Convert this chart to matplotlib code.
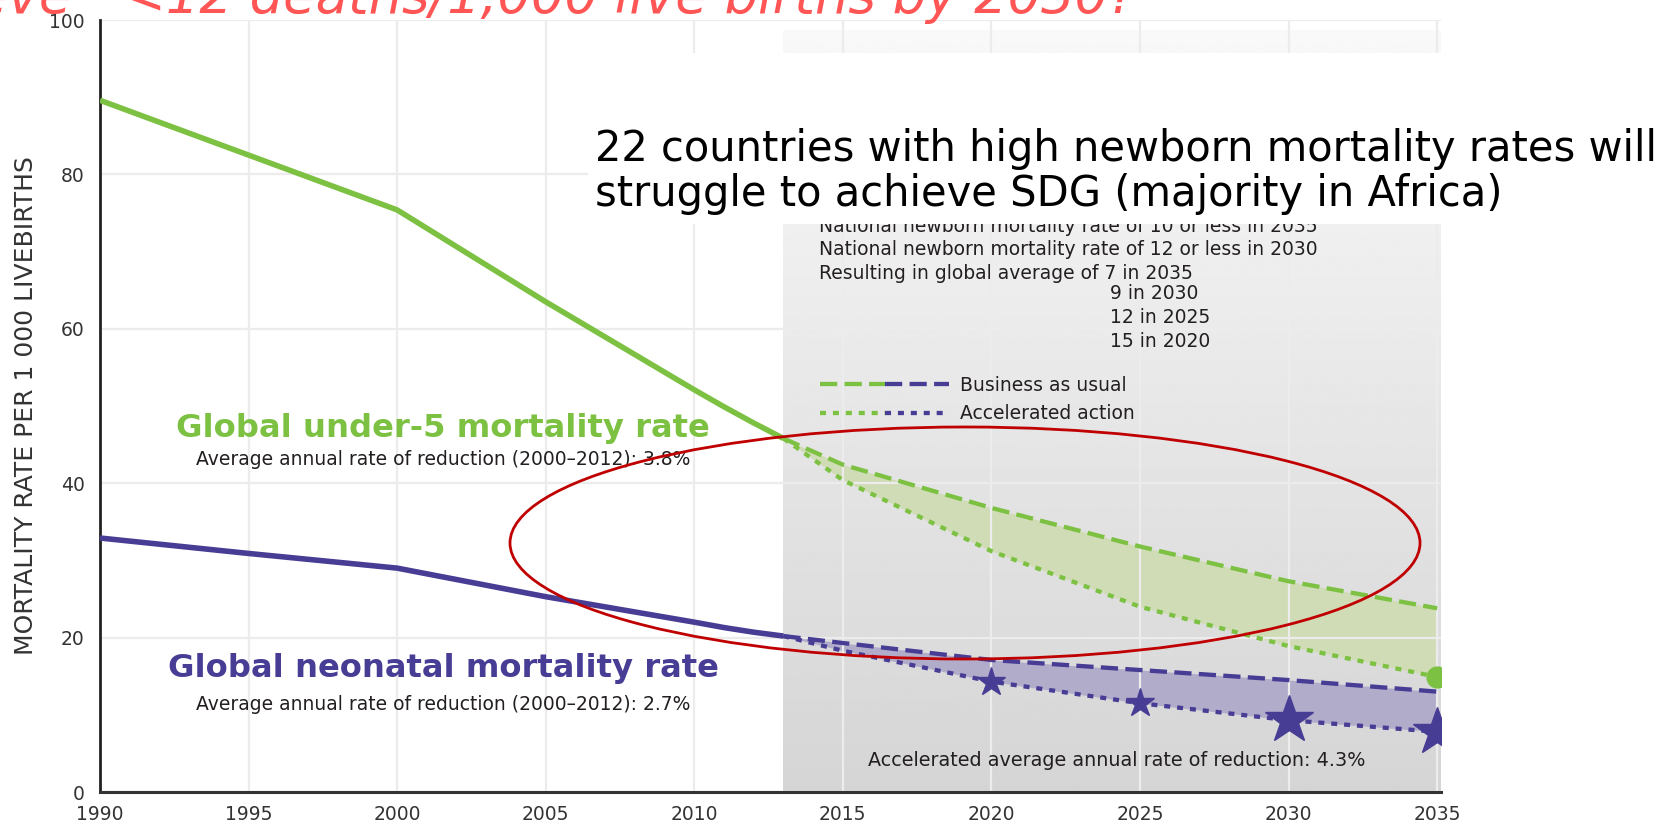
import matplotlib.pyplot as plt
import numpy as np
from matplotlib.patches import Rectangle, Ellipse
from matplotlib.legend_handler import HandlerTuple

# historical estimates
years_hist = [1990, 1995, 2000, 2005, 2010, 2011, 2012, 2013]
under5_hist = [89.6, 82.5, 75.4, 63.5, 52.1, 49.9, 47.8, 45.8]
neonatal_hist = [32.9, 30.9, 29.0, 25.3, 22.0, 21.3, 20.7, 20.2]

# projections 2013-2035
years_proj = [2013, 2015, 2020, 2025, 2030, 2035]
under5_bau = [45.8, 42.4, 36.8, 31.8, 27.3, 23.8]
under5_acc = [45.8, 40.4, 31.2, 24.0, 18.9, 14.9]
neonatal_bau = [20.2, 19.3, 17.1, 15.8, 14.5, 13.0]
neonatal_acc = [20.2, 18.3, 14.3, 11.5, 9.3, 7.8]

small_star_years = [2020, 2025]
big_star_years = [2030, 2035]
projection_start = 2013

x_ticks = list(range(1990, 2036, 5))
y_ticks = [0, 20, 40, 60, 80, 100]

gray_notes = [
    "National newborn mortality rate of 10 or less in 2035",
    "National newborn mortality rate of 12 or less in 2030",
    "Resulting in global average of 7 in 2035",
]
gray_notes_2 = ["9 in 2030", "12 in 2025", "15 in 2020"]

green = "#7dc143"
purple = "#473d95"
text_col = "#231f20"

plt.rcParams["font.family"] = ["DejaVu Sans"]

fig = plt.figure(figsize=(16.67, 8.23), dpi=100)
ax = fig.add_axes([100 / 1667, 1 - 792 / 823, 1341 / 1667, 772 / 823])

x_max = 2035.13

# shaded projection period (vertical gradient)
gradient = np.linspace(0.975, 0.835, 256).reshape(-1, 1)
ax.imshow(gradient, cmap="gray", vmin=0, vmax=1, aspect="auto", origin="upper",
          extent=(projection_start, x_max, 0, 98.7), zorder=0.1)

acc_u5 = dict(zip(years_proj, under5_acc))
acc_neo = dict(zip(years_proj, neonatal_acc))

ax.fill_between(years_proj, under5_bau, under5_acc, color="#d0dcb6", lw=0, zorder=0.3)
ax.fill_between(years_proj, neonatal_bau, neonatal_acc, color="#b1acca", lw=0, zorder=0.3)

ax.plot(years_hist, under5_hist, color=green, lw=4, solid_capstyle="butt", zorder=3)
ax.plot(years_hist, neonatal_hist, color=purple, lw=4, solid_capstyle="butt", zorder=3)

dash = (0, (4, 1.7))
dot = (0, (1.4, 1.6))
g_bau, = ax.plot(years_proj, under5_bau, color=green, lw=3.1, ls=dash, dash_capstyle="butt", zorder=3)
g_acc, = ax.plot(years_proj, under5_acc, color=green, lw=3.1, ls=dot, dash_capstyle="butt", zorder=3)
p_bau, = ax.plot(years_proj, neonatal_bau, color=purple, lw=3.1, ls=dash, dash_capstyle="butt", zorder=3)
p_acc, = ax.plot(years_proj, neonatal_acc, color=purple, lw=3.1, ls=dot, dash_capstyle="butt", zorder=3)

ax.plot(small_star_years, [acc_neo[y] for y in small_star_years], ls="none", marker="*",
        ms=21, color=purple, mec=purple, zorder=4)
ax.plot(big_star_years, [acc_neo[y] for y in big_star_years], ls="none", marker="*",
        ms=36, color=purple, mec=purple, zorder=4)
ax.plot([2035], [acc_u5[2035]], ls="none", marker="o", ms=15, color=green, zorder=4)

ax.set_xlim(1990, x_max)
ax.set_ylim(0, 100)
ax.set_xticks(x_ticks)
ax.set_yticks(y_ticks)
ax.set_axisbelow(True)
ax.grid(color="#ececec", lw=1.6)
ax.spines[["top", "right"]].set_visible(False)
ax.spines["left"].set_linewidth(2)
ax.spines["left"].set_color("#222222")
ax.spines["bottom"].set_linewidth(2.2)
ax.spines["bottom"].set_color("#333333")
ax.tick_params(length=0, labelsize=13.5, labelcolor="#333333")
ax.tick_params(axis="x", pad=9)
ax.tick_params(axis="y", pad=11)

ax.set_ylabel("MORTALITY RATE PER 1 000 LIVEBIRTHS", fontsize=18, color="#333333")
ax.yaxis.set_label_coords(-0.0462, 0.5)

ax.text(2001.55, 46.0, "Global under-5 mortality rate", ha="center", va="baseline",
        color=green, fontsize=23.2, weight="bold")
ax.text(2001.55, 42.4, "Average annual rate of reduction (2000–2012): 3.8%", ha="center",
        va="baseline", color=text_col, fontsize=13.5)
ax.text(2001.55, 14.9, "Global neonatal mortality rate", ha="center", va="baseline",
        color=purple, fontsize=23.2, weight="bold")
ax.text(2001.55, 10.6, "Average annual rate of reduction (2000–2012): 2.7%", ha="center",
        va="baseline", color=text_col, fontsize=13.5)
ax.text(2024.2, 3.4, "Accelerated average annual rate of reduction: 4.3%", ha="center",
        va="baseline", color=text_col, fontsize=13.8)

for i, line in enumerate(gray_notes):
    ax.text(2014.2, 72.6 - 3.05 * i, line, va="baseline", color=text_col, fontsize=13.5)
for i, line in enumerate(gray_notes_2):
    ax.text(2024.0, 63.8 - 3.05 * i, line, va="baseline", color=text_col, fontsize=13.5)

ax.legend([(g_bau, p_bau), (g_acc, p_acc)], ["Business as usual", "Accelerated action"],
          handler_map={tuple: HandlerTuple(ndivide=None, pad=0)},
          loc="upper left", bbox_to_anchor=(820 / 1667, 1 - 376 / 823),
          bbox_transform=fig.transFigure, frameon=False, fontsize=13.5,
          handlelength=6.9, handletextpad=0.55, borderpad=0, borderaxespad=0,
          labelspacing=0.5, labelcolor=text_col)

# overlay from the slide
fig.add_artist(Rectangle((588 / 1667, 1 - 224 / 823), 1079 / 1667, 171 / 823,
                         transform=fig.transFigure, facecolor="white", edgecolor="none", zorder=1))
fig.text(595 / 1667, 1 - 161 / 823, "22 countries with high newborn mortality rates will",
         va="baseline", fontsize=30, color="black", zorder=2)
fig.text(595 / 1667, 1 - 206 / 823, "struggle to achieve SDG (majority in Africa)",
         va="baseline", fontsize=30, color="black", zorder=2)
fig.text(1136 / 1667, 1 - 13 / 823, "Can we achieve   <12 deaths/1,000 live births by 2030?",
         ha="right", va="baseline", fontsize=38, style="italic", color="#ff5555", zorder=2)
fig.add_artist(Ellipse((965 / 1667, 1 - 543 / 823), 910 / 1667, 232 / 823,
                       transform=fig.transFigure, fill=False, edgecolor="#c00000", lw=2, zorder=5))

fig.savefig("out.png", dpi=100)
